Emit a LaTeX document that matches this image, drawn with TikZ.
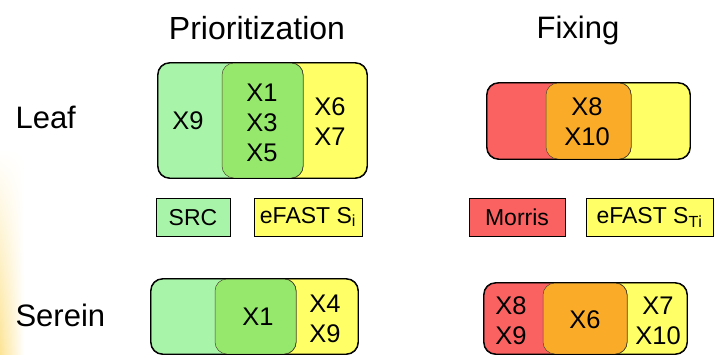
\documentclass[tikz,border=0pt]{standalone}
\usepackage{fontspec}
\setmainfont{Liberation Sans}
\usetikzlibrary{fadings}
\definecolor{lgreen}{RGB}{168,244,168}
\definecolor{dgreen}{RGB}{150,232,108}
\definecolor{yel}{RGB}{255,255,102}
\definecolor{red1}{RGB}{250,98,98}
\definecolor{orng}{RGB}{250,172,40}
\definecolor{glow}{RGB}{252,228,150}
\begin{document}
\begin{tikzpicture}[x=1pt,y=-1pt,
  setbox/.style={draw=black,line width=0.9pt,rounded corners=12pt,inner sep=0pt,minimum width=145pt},
  overlap/.style={draw=black!60!olive,line width=0.5pt,rounded corners=12pt,inner sep=0pt,minimum width=81pt},
  outline/.style={draw=black,line width=0.9pt,rounded corners=12pt},
  legendbox/.style={draw=black,line width=0.9pt,inner sep=0pt,minimum height=38pt,font=\fontsize{23}{26}\selectfont},
  title/.style={font=\fontsize{31}{34}\selectfont},
  xlab/.style={font=\fontsize{25.5}{30}\selectfont,align=center,inner sep=0pt}]
\useasboundingbox (0,0) rectangle (714,354);
\clip (0,0) rectangle (714,354);
% left glow
\shade[left color=glow, right color=white, path fading=north] (0,150) rectangle (24,354);
% titles
\node[title,font=\fontsize{32}{34}\selectfont] (tprio) at (257,28) {Prioritization};
\node[title] (tfix) at (578,30) {Fixing};
\node[title,anchor=west] (leaf) at (12,117) {Leaf};
\node[title,anchor=west] (serein) at (12,315) {Serein};
% Leaf prioritization
\node[setbox,fill=yel,minimum height=115pt] (lpy) at (294.5,120.5) {};
\node[setbox,fill=lgreen,minimum height=115pt] (lpg) at (230.5,120.5) {};
\node[overlap,fill=dgreen,minimum height=115pt] (lpo) at (262.5,120.5) {};
\draw[outline] (lpg.north west) rectangle (lpy.south east);
\node[xlab] (x9a) at (188,121) {X9};
\node[xlab] (x135) at (262,122.5) {X1\\X3\\X5};
\node[xlab] (x67) at (330,122) {X6\\X7};
% legend prioritization
\node[legendbox,fill=lgreen,minimum width=74pt] (src) at (193,217.5) {SRC};
\node[legendbox,fill=yel,minimum width=108pt] (efsi) at (308,217) {eFAST S$_{\mathrm{i}}$};
% Serein prioritization
\node[setbox,fill=yel,minimum height=75pt,minimum width=143pt] (spy) at (286.5,316.5) {};
\node[setbox,fill=lgreen,minimum height=75pt] (spg) at (223.5,316.5) {};
\node[overlap,fill=dgreen,minimum height=75pt] (spo) at (255.5,316.5) {};
\draw[outline] (spg.north west) rectangle (spy.south east);
\node[xlab] (x1b) at (258,317) {X1};
\node[xlab] (x49) at (325,319) {X4\\X9};
% Leaf fixing
\node[setbox,fill=yel,minimum height=76pt,minimum width=144pt] (lfy) at (618,121) {};
\node[setbox,fill=red1,minimum height=76pt,minimum width=144pt] (lfr) at (559,121) {};
\node[overlap,fill=orng,minimum height=76pt,minimum width=85pt] (lfo) at (588.5,121) {};
\draw[outline] (lfr.north west) rectangle (lfy.south east);
\node[xlab] (x810) at (587,122) {X8\\X10};
% legend fixing
\node[legendbox,fill=red1,minimum width=96pt] (morris) at (517,217) {Morris};
\node[legendbox,fill=yel,minimum width=127pt] (efsti) at (649.5,217.5) {eFAST S$_{\mathrm{Ti}}$};
% Serein fixing
\node[setbox,fill=yel,minimum height=71pt,minimum width=144pt] (sfy) at (615,318.5) {};
\node[setbox,fill=red1,minimum height=71pt,minimum width=143pt] (sfr) at (555.5,318.5) {};
\node[overlap,fill=orng,minimum height=71pt,minimum width=84pt] (sfo) at (585,318.5) {};
\draw[outline] (sfr.north west) rectangle (sfy.south east);
\node[xlab] (x89) at (511,321) {X8\\X9};
\node[xlab] (x6) at (585,320) {X6};
\node[xlab] (x710) at (658,321) {X7\\X10};
\end{tikzpicture}
\end{document}
